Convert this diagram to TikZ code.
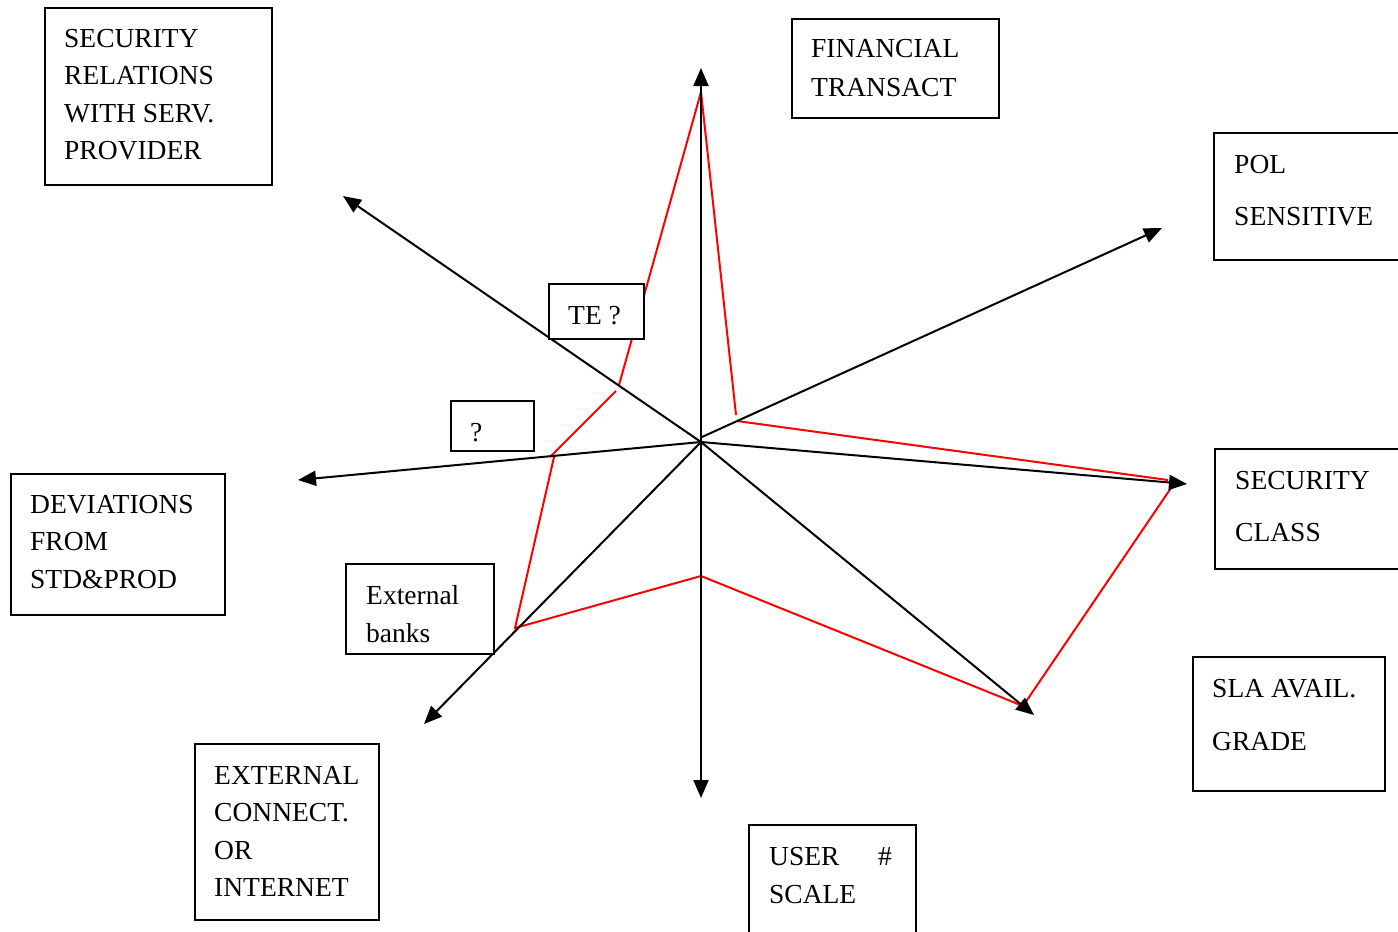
\documentclass[tikz,border=0pt]{standalone}
\usepackage{fontspec}
\setmainfont{Liberation Serif}
\usetikzlibrary{arrows.meta}
\tikzset{
  axis/.style={line width=2pt,-{Triangle[length=18pt,width=15pt]}},
  profile/.style={red,line width=2pt,line join=miter},
  box/.style={draw,line width=2pt,fill=white,inner sep=0pt,anchor=north west},
  lbl/.style={anchor=base west,inner sep=0pt,font=\fontsize{27.5}{32}\selectfont},
}
\begin{document}
\begin{tikzpicture}[x=1pt,y=-1pt]
\useasboundingbox (0,0) rectangle (1398,932);
\clip (0,0) rectangle (1398,932);
\fill[white] (0,0) rectangle (1398,932);

% hub and axis tips
\coordinate (O) at (701,442);
\coordinate (Oa) at (702,437);
\coordinate (tN) at (701,68);
\coordinate (tS) at (701,798);
\coordinate (tNW) at (343,196);
\coordinate (tNE) at (1162,228);
\coordinate (tW) at (298,480);
\coordinate (tE) at (1187,484);
\coordinate (tSW) at (424,724);
\coordinate (tSE) at (1034,715);

% red profile vertices
\coordinate (r1) at (701,92);
\coordinate (r2) at (736,415);
\coordinate (r3) at (737,421);
\coordinate (r4) at (1168,480);
\coordinate (r5) at (1171,488);
\coordinate (r6) at (1023,706);
\coordinate (r7) at (701,576);
\coordinate (r8) at (515,628);
\coordinate (r9) at (554,457);
\coordinate (r10) at (550,457);
\coordinate (r11) at (616,391);
\coordinate (r12) at (619,385);

\draw[profile] (r1) -- (r2);
\draw[profile] (r3) -- (r4);
\draw[profile] (r5) -- (r6) -- (r7) -- (r8) -- (r9);
\draw[profile] (r10) -- (r11);
\draw[profile] (r12) -- (r1);

% axes
\draw[axis] (O) -- (tN);
\draw[axis] (O) -- (tS);
\draw[axis] (O) -- (tNW);
\draw[axis] (Oa) -- (tNE);
\draw[axis] (O) -- (tW);
\draw[axis] (O) -- (tE);
\draw[axis] (O) -- (tSW);
\draw[axis] (O) -- (tSE);

% labelled boxes
\node[box,minimum width=227pt,minimum height=177pt] (bSec) at (44,7) {};
\node[lbl] (bSec1) at (64,47) {SECURITY};
\node[lbl] (bSec2) at (64,84) {RELATIONS};
\node[lbl] (bSec3) at (64,122) {WITH SERV.};
\node[lbl] (bSec4) at (64,159) {PROVIDER};

\node[box,minimum width=207pt,minimum height=99pt] (bFin) at (791,18) {};
\node[lbl] (bFin1) at (811,57) {FINANCIAL};
\node[lbl] (bFin2) at (811,96) {TRANSACT};

\node[box,minimum width=200pt,minimum height=127pt] (bPol) at (1213,132) {};
\node[lbl] (bPol1) at (1234,173) {POL};
\node[lbl] (bPol2) at (1234,225) {SENSITIVE};

\node[box,minimum width=200pt,minimum height=120pt] (bCls) at (1214,448) {};
\node[lbl] (bCls1) at (1235,489) {SECURITY};
\node[lbl] (bCls2) at (1235,541) {CLASS};

\node[box,minimum width=192pt,minimum height=134pt] (bSla) at (1192,656) {};
\node[lbl] (bSla1) at (1212,697) {SLA AVAIL.};
\node[lbl] (bSla2) at (1212,750) {GRADE};

\node[box,minimum width=167pt,minimum height=130pt] (bUsr) at (748,824) {};
\node[lbl] (bUsr1) at (769,865) {USER};
\node[lbl] (bUsr2) at (878,865) {\#};
\node[lbl] (bUsr3) at (769,903) {SCALE};

\node[box,minimum width=184pt,minimum height=176pt] (bExt) at (194,743) {};
\node[lbl] (bExt1) at (214,784) {EXTERNAL};
\node[lbl] (bExt2) at (214,821) {CONNECT.};
\node[lbl] (bExt3) at (214,859) {OR};
\node[lbl] (bExt4) at (214,896) {INTERNET};

\node[box,minimum width=214pt,minimum height=141pt] (bDev) at (10,473) {};
\node[lbl] (bDev1) at (30,513) {DEVIATIONS};
\node[lbl] (bDev2) at (30,550) {FROM};
\node[lbl] (bDev3) at (30,588) {STD\&PROD};

\node[box,minimum width=148pt,minimum height=90pt] (bBnk) at (345,563) {};
\node[lbl] (bBnk1) at (366,604) {External};
\node[lbl] (bBnk2) at (366,642) {banks};

\node[box,minimum width=95pt,minimum height=55pt] (bTE) at (548,283) {};
\node[lbl] (bTE1) at (568,324) {TE ?};

\node[box,minimum width=83pt,minimum height=50pt] (bQ) at (450,400) {};
\node[lbl] (bQ1) at (470,441) {?};
\end{tikzpicture}
\end{document}
